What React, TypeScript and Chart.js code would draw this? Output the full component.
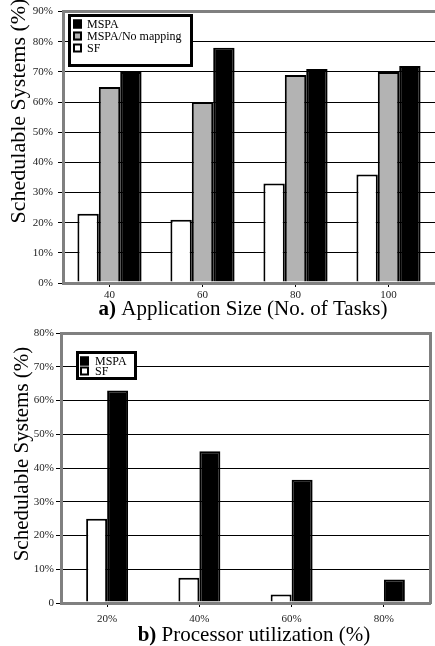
import React, { useEffect, useRef } from "react";
import { Chart, registerables } from "chart.js";

Chart.register(...registerables);

// ---- Data: chart a) ----
const sizeCategories = ["40", "60", "80", "100"];
const sizeSF = [23, 21, 33, 36];
const sizeNoMapping = [65, 60, 69, 70];
const sizeMSPA = [70, 78, 71, 72];

// ---- Data: chart b) ----
const utilCategories = ["20%", "40%", "60%", "80%"];
const utilSF = [25, 7.5, 2.5, 0];
const utilMSPA = [63, 45, 36.5, 7];

const FONT = "'Liberation Serif', 'Times New Roman', serif";
const GRAY_BORDER = "#808080";
const BAR_GRAY = "#b3b3b3";

type TitleCfg = {
  yTitle: string;
  ySize: number;
  yX: number;
  yY: number;
  xSize: number;
  xBold: string;
  xRest: string;
  xCx: number;
  xBase: number;
  legend: { x: number; y: number; w: number; h: number; itemX: number; textX: number; rows: number[] };
};

const decorPlugin = {
  id: "decor",
  afterDraw(chart: any, _args: any, opts: TitleCfg) {
    const ctx = chart.ctx as CanvasRenderingContext2D;
    ctx.save();
    // y title
    ctx.save();
    ctx.translate(opts.yX, opts.yY);
    ctx.rotate(-Math.PI / 2);
    ctx.font = `${opts.ySize}px ${FONT}`;
    ctx.fillStyle = "#000";
    ctx.textAlign = "center";
    ctx.textBaseline = "middle";
    ctx.fillText(opts.yTitle, 0, 0);
    ctx.restore();
    // x title (bold label + normal text)
    ctx.fillStyle = "#000";
    ctx.textBaseline = "alphabetic";
    ctx.textAlign = "left";
    ctx.font = `bold ${opts.xSize}px ${FONT}`;
    const wb = ctx.measureText(opts.xBold).width;
    ctx.font = `${opts.xSize}px ${FONT}`;
    const wr = ctx.measureText(opts.xRest).width;
    const start = opts.xCx - (wb + wr) / 2;
    ctx.font = `bold ${opts.xSize}px ${FONT}`;
    ctx.fillText(opts.xBold, start, opts.xBase);
    ctx.font = `${opts.xSize}px ${FONT}`;
    ctx.fillText(opts.xRest, start + wb, opts.xBase);
    // legend box
    const L = opts.legend;
    ctx.fillStyle = "#fff";
    ctx.fillRect(L.x, L.y, L.w, L.h);
    ctx.strokeStyle = "#000";
    ctx.lineWidth = 3;
    ctx.strokeRect(L.x + 1.5, L.y + 1.5, L.w - 3, L.h - 3);
    const ds = [...chart.data.datasets].reverse();
    ctx.font = `12px ${FONT}`;
    ctx.textBaseline = "middle";
    ds.forEach((d: any, i: number) => {
      const cy = L.rows[i];
      const s = 9;
      ctx.fillStyle = d.backgroundColor;
      ctx.fillRect(L.itemX, cy - s / 2, s, s);
      ctx.lineWidth = 2;
      ctx.strokeStyle = "#000";
      ctx.strokeRect(L.itemX + 1, cy - s / 2 + 1, s - 2, s - 2);
      ctx.fillStyle = "#000";
      ctx.fillText(d.label, L.textX, cy + 1);
    });
    ctx.restore();
  },
};

function makeYGrid(maxV: number) {
  return {
    color: (c: any) => (c.tick && (c.tick.value === 0 || c.tick.value === maxV) ? GRAY_BORDER : "#000"),
    lineWidth: (c: any) => (c.tick && (c.tick.value === 0 || c.tick.value === maxV) ? 3 : 1),
    tickColor: "#000",
    tickLength: 5,
    tickWidth: 1,
  };
}

export default function App() {
  const topRef = useRef<HTMLCanvasElement>(null);
  const botRef = useRef<HTMLCanvasElement>(null);

  useEffect(() => {
    document.body.style.margin = "0";
    const tickFont = { family: FONT, size: 11 };

    const top = new Chart(topRef.current!, {
      type: "bar",
      data: {
        labels: sizeCategories,
        datasets: [
          { label: "SF", data: sizeSF, backgroundColor: "#ffffff", borderColor: "#000", borderWidth: 2 },
          { label: "MSPA/No mapping", data: sizeNoMapping, backgroundColor: BAR_GRAY, borderColor: "#000", borderWidth: 2 },
          { label: "MSPA", data: sizeMSPA, backgroundColor: "#000000", borderColor: "#000", borderWidth: 2 },
        ],
      },
      options: {
        responsive: false,
        animation: false,
        layout: { padding: { top: 10, left: 0, right: 0, bottom: 0 } },
        datasets: { bar: { categoryPercentage: 0.69, barPercentage: 1 } },
        plugins: {
          legend: { display: false },
          tooltip: { enabled: false },
          decor: {
            yTitle: "Schedulable Systems (%)",
            ySize: 22,
            yX: 19,
            yY: 111,
            xSize: 21,
            xBold: "a)",
            xRest: " Application Size (No. of Tasks)",
            xCx: 243,
            xBase: 315,
            legend: { x: 68, y: 14, w: 125, h: 53, itemX: 73, textX: 87, rows: [24, 36, 48] },
          },
        } as any,
        scales: {
          x: {
            grid: { drawOnChartArea: false, offset: false, tickLength: 4, color: "#000" },
            border: { color: GRAY_BORDER, width: 3 },
            ticks: { font: tickFont, color: "#222", padding: 2 },
            afterFit: (s: any) => { s.height = 37; },
          },
          y: {
            min: 0,
            max: 90,
            ticks: { stepSize: 10, font: tickFont, color: "#222", padding: 5, callback: (v: any) => v + "%" },
            grid: makeYGrid(90),
            border: { color: GRAY_BORDER, width: 3 },
            afterFit: (s: any) => { s.width = 63; },
          },
        },
      },
      plugins: [decorPlugin],
    });

    const bot = new Chart(botRef.current!, {
      type: "bar",
      data: {
        labels: utilCategories,
        datasets: [
          { label: "SF", data: utilSF, backgroundColor: "#ffffff", borderColor: "#000", borderWidth: 2 },
          { label: "MSPA", data: utilMSPA, backgroundColor: "#000000", borderColor: "#000", borderWidth: 2 },
        ],
      },
      options: {
        responsive: false,
        animation: false,
        layout: { padding: { top: 13, left: 0, right: 0, bottom: 0 } },
        datasets: { bar: { categoryPercentage: 0.455, barPercentage: 1 } },
        plugins: {
          legend: { display: false },
          tooltip: { enabled: false },
          decor: {
            yTitle: "Schedulable Systems (%)",
            ySize: 21,
            yX: 22,
            yY: 134,
            xSize: 21,
            xBold: "b)",
            xRest: " Processor utilization (%)",
            xCx: 254,
            xBase: 321,
            legend: { x: 76, y: 31, w: 61, h: 29, itemX: 80, textX: 95, rows: [41, 51] },
          },
        } as any,
        scales: {
          x: {
            grid: { drawOnChartArea: false, offset: false, tickLength: 4, color: "#000" },
            border: { color: GRAY_BORDER, width: 3 },
            ticks: { font: tickFont, color: "#222", padding: 6 },
            afterFit: (s: any) => { s.height = 43; },
          },
          y: {
            min: 0,
            max: 80,
            ticks: { stepSize: 10, font: tickFont, color: "#222", padding: 2, callback: (v: any) => (v === 0 ? "0" : v + "%") },
            grid: makeYGrid(80),
            border: { color: GRAY_BORDER, width: 3 },
            afterFit: (s: any) => { s.width = 61; },
          },
          y2: {
            position: "right",
            min: 0,
            max: 80,
            ticks: { display: false },
            grid: { display: false },
            border: { color: GRAY_BORDER, width: 3 },
            afterFit: (s: any) => { s.width = 5; },
          },
        },
      },
      plugins: [decorPlugin],
    });

    return () => {
      top.destroy();
      bot.destroy();
    };
  }, []);

  return (
    <div style={{ position: "relative", width: 435, height: 646, background: "#fff" }}>
      <canvas ref={topRef} width={435} height={320} style={{ position: "absolute", left: 0, top: 0 }} />
      <canvas ref={botRef} width={435} height={326} style={{ position: "absolute", left: 0, top: 320 }} />
    </div>
  );
}
